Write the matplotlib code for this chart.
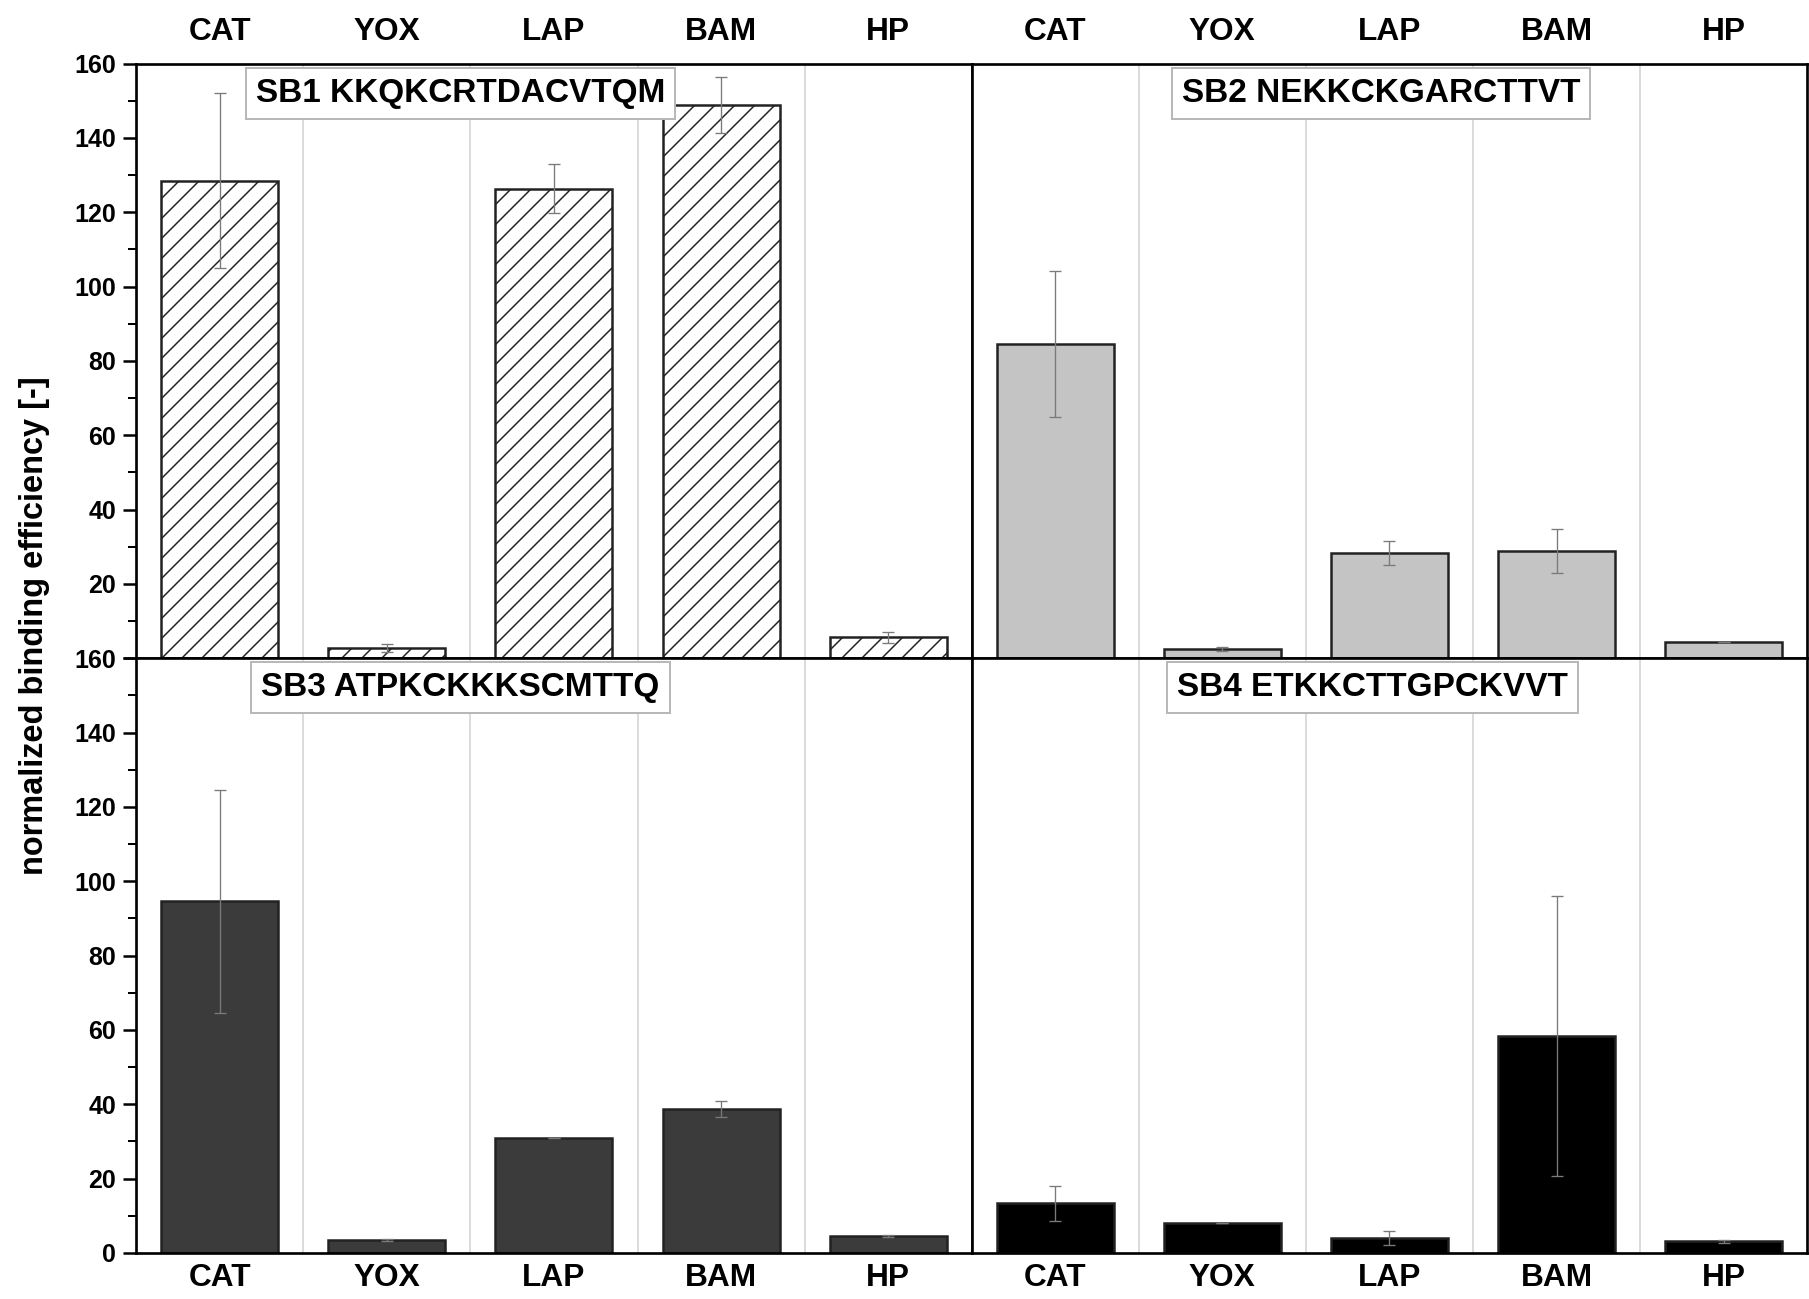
import numpy as np
import matplotlib.pyplot as plt

plt.rcParams['font.family'] = ['Liberation Sans', 'DejaVu Sans']
plt.rcParams['font.weight'] = 'bold'
plt.rcParams['hatch.color'] = '#6e6e6e'
plt.rcParams['hatch.linewidth'] = 0.9

cats = ['CAT', 'YOX', 'LAP', 'BAM', 'HP']

sb1 = [128.5, 2.8, 126.4, 148.8, 5.6]
sb1_err = [23.5, 1.0, 6.5, 7.5, 1.5]
sb2 = [84.5, 2.5, 28.3, 28.9, 4.3]
sb2_err = [19.7, 0.5, 3.3, 6.0, 0.0]
sb3 = [94.6, 3.4, 31.0, 38.8, 4.6]
sb3_err = [30.0, 0.3, 0.0, 2.2, 0.3]
sb4 = [13.3, 8.1, 4.0, 58.3, 3.1]
sb4_err = [4.7, 0.0, 1.8, 37.7, 0.5]

labels = ['SB1 KKQKCRTDACVTQM', 'SB2 NEKKCKGARCTTVT',
          'SB3 ATPKCKKKSCMTTQ', 'SB4 ETKKCTTGPCKVVT']

fig = plt.figure(figsize=(1809/120, 1299/120), dpi=120)
gs = fig.add_gridspec(2, 2, left=0.0753, right=0.999, top=0.951, bottom=0.0355,
                      hspace=0, wspace=0)

panels = [
    (0, 0, sb1, sb1_err, 'white', '//', labels[0], 1.44),
    (0, 1, sb2, sb2_err, '#c4c4c4', None, labels[1], 1.95),
    (1, 0, sb3, sb3_err, '#3b3b3b', None, labels[2], 1.44),
    (1, 1, sb4, sb4_err, 'black', None, labels[3], 1.90),
]

x = np.arange(len(cats))
for r, c, vals, errs, col, hatch, lab, lx in panels:
    ax = fig.add_subplot(gs[r, c])
    for b in [0.5, 1.5, 2.5, 3.5]:
        ax.axvline(b, color='#d4d4d4', lw=1.0, zorder=0)
    ax.bar(x, vals, width=0.7, color=col, edgecolor='#222222', linewidth=1.5,
           hatch=hatch, zorder=2)
    ax.errorbar(x, vals, yerr=errs, fmt='none', ecolor='#7a7a7a', elinewidth=0.8,
                capsize=3.5, capthick=0.8, zorder=3)
    ax.set_xlim(-0.5, 4.5)
    ax.set_ylim(0, 160)
    ax.set_xticks(x)
    ax.set_xticklabels(cats, fontsize=19, fontweight='bold')
    if r == 0:
        ax.tick_params(axis='x', top=False, bottom=False, labeltop=True, labelbottom=False,
                       length=0, pad=10)
    else:
        ax.tick_params(axis='x', top=False, bottom=False, length=0, pad=6)
    ax.set_yticks(np.arange(0, 161, 20))
    ax.set_yticks(np.arange(10, 160, 20), minor=True)
    if c == 0:
        ax.tick_params(axis='y', which='major', direction='out', length=8, width=1.5,
                       labelsize=15, pad=4)
        ax.tick_params(axis='y', which='minor', direction='out', length=5, width=1.2)
        if r == 0:
            ax.set_yticklabels([''] + [str(v) for v in range(20, 161, 20)])
        for t in ax.get_yticklabels():
            t.set_fontweight('bold')
    else:
        ax.tick_params(axis='y', which='both', left=False, labelleft=False)
    for s in ax.spines.values():
        s.set_linewidth(1.6)
    ax.text(lx, 152, lab, fontsize=20, fontweight='bold', ha='center', va='center',
            zorder=5,
            bbox=dict(boxstyle='square,pad=0.3', facecolor='white', edgecolor='#b8b8b8',
                      linewidth=1.2))

fig.text(0.019, 0.518, 'normalized binding efficiency [-]', rotation=90, fontsize=19.5,
         fontweight='bold', ha='center', va='center')

fig.savefig('out.png', dpi=120)
